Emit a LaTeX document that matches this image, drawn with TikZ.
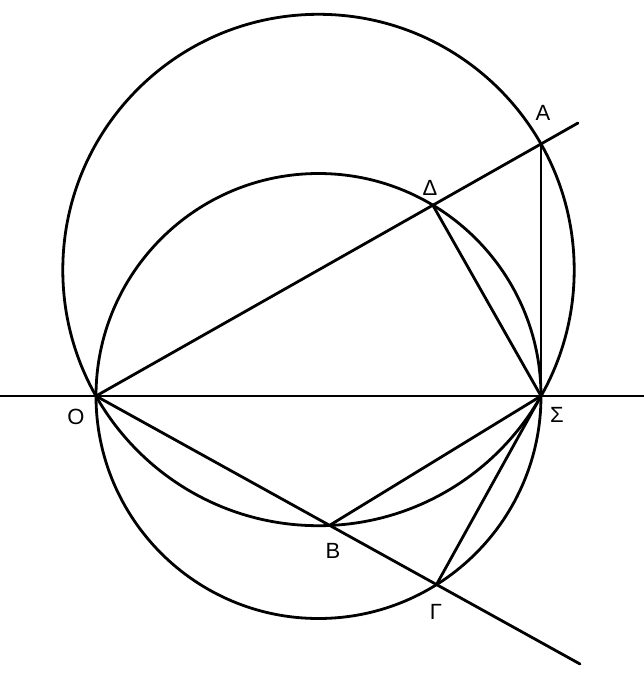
\documentclass[tikz,border=0pt]{standalone}
\usepackage{fontspec}
\setmainfont{Liberation Sans}
\begin{document}
\begin{tikzpicture}[x=1pt,y=-1pt,
  geo/.style={line width=2.8pt, line cap=round},
  axis/.style={line width=1.7pt},
  lbl/.style={font=\fontsize{22}{22}\selectfont, inner sep=0pt}]
\useasboundingbox (0,0) rectangle (644,678);
\fill[white] (0,0) rectangle (644,678);
% points
\coordinate (O) at (96,396);
\coordinate (S) at (541,396);
\coordinate (A) at (541,144);
\coordinate (D) at (433,205.5);
\coordinate (B) at (329.5,525.4);
\coordinate (G) at (436.4,584.7);
\coordinate (Cb) at (318.5,270);
\coordinate (Cs) at (318.5,396);
\coordinate (Aend) at (578,123);
\coordinate (Gend) at (580,664);
\coordinate (Lft) at (0,396);
\coordinate (Rgt) at (644,396);
% axis
\draw[axis] (Lft) -- (Rgt);
% circles
\draw[geo] (Cb) circle[radius=255.7pt];
\draw[geo] (Cs) circle[radius=222.5pt];
% rays
\draw[geo] (O) -- (Aend);
\draw[geo] (O) -- (Gend);
% segments to Sigma
\draw[geo] (A) -- (S);
\draw[geo] (D) -- (S);
\draw[geo] (B) -- (S);
\draw[geo] (G) -- (S);
% labels
\node[lbl] (lA) at (543,113) {Α};
\node[lbl] (lD) at (430,188) {Δ};
\node[lbl] (lO) at (76,417) {Ο};
\node[lbl] (lS) at (557,415) {Σ};
\node[lbl] (lB) at (333,551) {Β};
\node[lbl] (lG) at (436,612) {Γ};
\end{tikzpicture}
\end{document}
